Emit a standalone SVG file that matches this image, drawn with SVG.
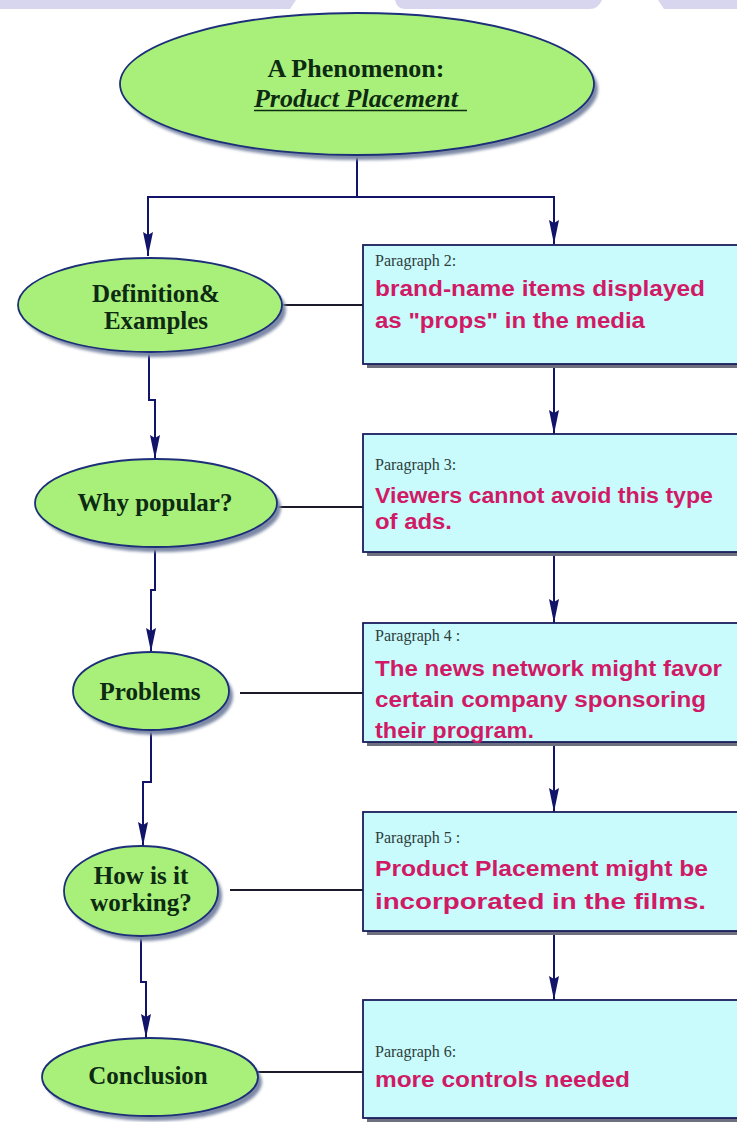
<svg xmlns="http://www.w3.org/2000/svg" width="737" height="1122" viewBox="0 0 737 1122">
<style>
.ell{fill:#a9f07a;stroke:#1c2f78;stroke-width:1.8}
.esh{fill:#7d89a6}
.box{fill:#c9fbfc;stroke:#1a1c5c;stroke-width:1.8}
.bsh{fill:#6e7080}
.lbl{font-family:"Liberation Serif","Times New Roman",serif;font-weight:bold;font-size:25px;fill:#0d2a12;text-anchor:middle}
.par{font-family:"Liberation Serif","Times New Roman",serif;font-size:16px;fill:#2e3d3d}
.mag{font-family:"Liberation Sans",Arial,sans-serif;font-weight:bold;font-size:22px;fill:#d01a66}
.arr{fill:none;stroke:#12146a;stroke-width:2;marker-end:url(#ah)}
.lnk{fill:none;stroke:#1a1a2a;stroke-width:1.8}
.wm{fill:#d8d6ef}
</style>
<defs>
<marker id="ah" markerUnits="userSpaceOnUse" markerWidth="26" markerHeight="12" refX="24" refY="6" orient="auto">
<path d="M0,1 L24,6 L0,11 L3,6 z" fill="#12146a"/>
</marker>
<filter id="blur" x="-10%" y="-10%" width="120%" height="120%"><feGaussianBlur stdDeviation="1.5"/></filter>
</defs>
<rect width="737" height="1122" fill="#ffffff"/>
<g id="watermark">
<path class="wm" d="M0,0 H296 L290,9 H0 z"/>
<path class="wm" d="M395,0 H602 Q598,9 590,9 H405 Q397,9 395,0 z"/>
<path class="wm" d="M658,0 H737 V9 H664 z"/>
</g>
<g id="connectors">
<path class="arr" d="M357,155 V197 H148 V256"/>
<path class="arr" d="M357,197 H554 V244"/>
<path class="arr" d="M149,352 V400 H155 V459"/>
<path class="arr" d="M155,548 V590 H151 V652"/>
<path class="arr" d="M151,730 V782 H143 V846"/>
<path class="arr" d="M141,936 V982 H146 V1038"/>
<path class="arr" d="M554,364 V434"/>
<path class="arr" d="M554,552 V623"/>
<path class="arr" d="M554,742 V812"/>
<path class="arr" d="M554,931 V1000"/>
<path class="lnk" d="M282,305 H363"/>
<path class="lnk" d="M277,507 H363"/>
<path class="lnk" d="M240,693 H363"/>
<path class="lnk" d="M230,890 H363"/>
<path class="lnk" d="M258,1072 H363"/>
</g>
<g id="n-top">
<ellipse class="esh" cx="361" cy="89" rx="237" ry="71" filter="url(#blur)"/>
<ellipse class="ell" cx="357" cy="84" rx="237" ry="71"/>
<text class="lbl" x="356" y="77" font-size="26" textLength="177" lengthAdjust="spacingAndGlyphs">A Phenomenon:</text>
<text class="lbl" x="356" y="107" font-size="26" font-style="italic" textLength="204" lengthAdjust="spacingAndGlyphs">Product Placement</text>
<line x1="254" y1="110.5" x2="467" y2="110.5" stroke="#0d2a12" stroke-width="1.6"/>
</g>
<g id="n-def">
<ellipse class="esh" cx="154" cy="310" rx="132" ry="47" filter="url(#blur)"/>
<ellipse class="ell" cx="150" cy="305" rx="132" ry="47"/>
<text class="lbl" x="156" y="302">Definition&amp;</text>
<text class="lbl" x="156" y="329">Examples</text>
</g>
<g id="n-why">
<ellipse class="esh" cx="160" cy="508" rx="121" ry="44" filter="url(#blur)"/>
<ellipse class="ell" cx="156" cy="503" rx="121" ry="44"/>
<text class="lbl" x="155" y="511">Why popular?</text>
</g>
<g id="n-problems">
<ellipse class="esh" cx="155" cy="696" rx="78" ry="39" filter="url(#blur)"/>
<ellipse class="ell" cx="151" cy="691" rx="78" ry="39"/>
<text class="lbl" x="150" y="700">Problems</text>
</g>
<g id="n-how">
<ellipse class="esh" cx="145" cy="896" rx="77" ry="45" filter="url(#blur)"/>
<ellipse class="ell" cx="141" cy="891" rx="77" ry="45"/>
<text class="lbl" x="141" y="884">How is it</text>
<text class="lbl" x="141" y="911">working?</text>
</g>
<g id="n-conclusion">
<ellipse class="esh" cx="154" cy="1082" rx="108" ry="39" filter="url(#blur)"/>
<ellipse class="ell" cx="150" cy="1077" rx="108" ry="39"/>
<text class="lbl" x="148" y="1084">Conclusion</text>
</g>
<g id="p2">
<rect class="bsh" x="367" y="249" width="380" height="119"/>
<rect class="box" x="363" y="245" width="380" height="119"/>
<text class="par" x="375" y="266">Paragraph 2:</text>
<text class="mag" x="375" y="296" textLength="330" lengthAdjust="spacingAndGlyphs">brand-name items displayed</text>
<text class="mag" x="375" y="328" textLength="270" lengthAdjust="spacingAndGlyphs">as "props" in the media</text>
</g>
<g id="p3">
<rect class="bsh" x="367" y="438" width="380" height="118"/>
<rect class="box" x="363" y="434" width="380" height="118"/>
<text class="par" x="375" y="470">Paragraph 3:</text>
<text class="mag" x="375" y="503" textLength="338" lengthAdjust="spacingAndGlyphs">Viewers cannot avoid this type</text>
<text class="mag" x="375" y="529" textLength="77" lengthAdjust="spacingAndGlyphs">of ads.</text>
</g>
<g id="p4">
<rect class="bsh" x="367" y="627" width="380" height="119"/>
<rect class="box" x="363" y="623" width="380" height="119"/>
<text class="par" x="375" y="641">Paragraph 4 :</text>
<text class="mag" x="375" y="676" textLength="347" lengthAdjust="spacingAndGlyphs">The news network might favor</text>
<text class="mag" x="375" y="707" textLength="331" lengthAdjust="spacingAndGlyphs">certain company sponsoring</text>
<text class="mag" x="375" y="738" textLength="159" lengthAdjust="spacingAndGlyphs">their program.</text>
</g>
<g id="p5">
<rect class="bsh" x="367" y="816" width="380" height="119"/>
<rect class="box" x="363" y="812" width="380" height="119"/>
<text class="par" x="375" y="843">Paragraph 5 :</text>
<text class="mag" x="375" y="876" textLength="333" lengthAdjust="spacingAndGlyphs">Product Placement might be</text>
<text class="mag" x="375" y="909" textLength="331" lengthAdjust="spacingAndGlyphs">incorporated in the films.</text>
</g>
<g id="p6">
<rect class="bsh" x="367" y="1004" width="380" height="118"/>
<rect class="box" x="363" y="1000" width="380" height="118"/>
<text class="par" x="375" y="1057">Paragraph 6:</text>
<text class="mag" x="375" y="1087" textLength="255" lengthAdjust="spacingAndGlyphs">more controls needed</text>
</g>
</svg>
